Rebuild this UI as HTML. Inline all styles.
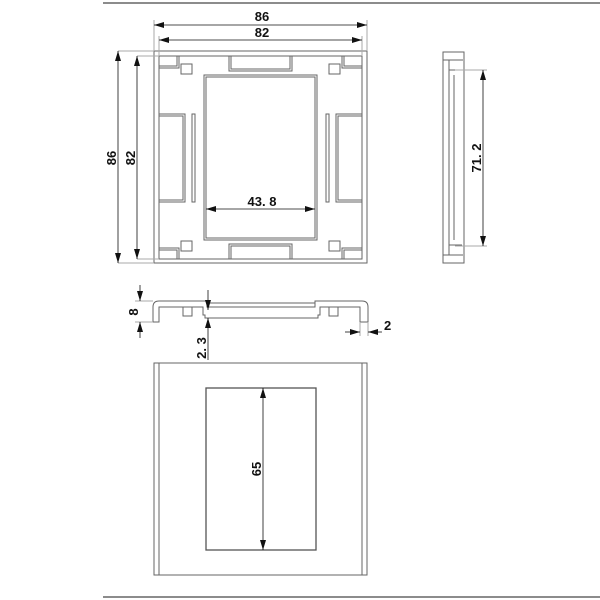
<!DOCTYPE html>
<html><head><style>body{margin:0;background:#fff}svg{display:block}text{font-family:"Liberation Sans",sans-serif;font-weight:bold;font-size:13px;fill:#111}</style></head><body>
<svg width="600" height="600" viewBox="0 0 600 600">
<defs><marker id="a" viewBox="0 0 10 6" refX="10" refY="3" markerWidth="10" markerHeight="6" orient="auto-start-reverse" markerUnits="userSpaceOnUse"><path d="M0,0 L10,3 L0,6z" fill="#111"/></marker></defs>
<line x1="103" y1="3" x2="600" y2="3" stroke="#666" stroke-width="1.5"/>
<line x1="103" y1="597" x2="600" y2="597" stroke="#666" stroke-width="1.5"/>
<g fill="none" stroke="#666" stroke-width="1">
<rect x="154" y="51" width="213" height="212"/>
<rect x="159" y="56" width="203" height="203"/>
<line x1="118" y1="51" x2="154" y2="51" stroke="#aaa"/><line x1="118" y1="263" x2="154" y2="263" stroke="#aaa"/>
<line x1="137" y1="56" x2="159" y2="56" stroke="#aaa"/><line x1="137" y1="259" x2="159" y2="259" stroke="#aaa"/>
<line x1="154" y1="20" x2="154" y2="51" stroke="#aaa"/><line x1="367" y1="20" x2="367" y2="51" stroke="#aaa"/>
<line x1="159" y1="36" x2="159" y2="56" stroke="#aaa"/><line x1="362" y1="36" x2="362" y2="56" stroke="#aaa"/>
<rect x="204" y="75" width="113" height="165"/><rect x="206" y="77" width="109" height="161"/>
<rect x="229" y="56" width="63" height="15"/><rect x="231" y="56" width="59" height="13"/>
<rect x="229" y="244" width="63" height="15"/><rect x="231" y="246" width="59" height="13"/>
<rect x="159" y="114" width="26" height="88"/><rect x="159" y="116" width="24" height="84"/>
<rect x="336" y="114" width="26" height="88"/><rect x="338" y="116" width="24" height="84"/>
<rect x="192" y="114" width="3" height="88"/><rect x="326" y="114" width="3" height="88"/>
<path d="M159,68 H179 V56 M177,56 V66 H159"/><path d="M362,68 H342 V56 M344,56 V66 H362"/>
<path d="M159,248 H179 V259 M177,259 V250 H159"/><path d="M362,248 H342 V259 M344,259 V250 H362"/>
<rect x="181" y="64" width="11" height="10"/><rect x="329" y="64" width="11" height="10"/>
<rect x="181" y="241" width="11" height="10"/><rect x="329" y="241" width="11" height="10"/>
<rect x="443" y="52" width="21" height="211"/>
<line x1="449" y1="60" x2="449" y2="255"/><line x1="454" y1="75" x2="454" y2="240"/>
<path d="M443,60 H463 M449,60 V70 H462 M443,255 H463 M449,255 V245 H462"/>
<line x1="455" y1="70" x2="487" y2="70" stroke="#aaa"/><line x1="455" y1="246" x2="487" y2="246" stroke="#aaa"/>
<path d="M153,322 V307 Q153,301 159,301 H207 V307 H315 V301 H362 Q368,301 368,307 V322 H360 V307 H320 V315 H318 V318 H205 V315 H203 V307 H159 V322 Z"/>
<line x1="207" y1="303" x2="315" y2="303"/>
<rect x="183" y="307" width="9" height="9"/><rect x="329" y="307" width="9" height="9"/>
<line x1="135" y1="301" x2="153" y2="301" stroke="#aaa"/><line x1="135" y1="322" x2="153" y2="322" stroke="#aaa"/>
<line x1="368" y1="322" x2="368" y2="336" stroke="#aaa"/><line x1="360" y1="322" x2="360" y2="336" stroke="#aaa"/>
<rect x="154" y="363" width="213" height="212"/>
<line x1="159" y1="363" x2="159" y2="575"/><line x1="362" y1="363" x2="362" y2="575"/>
<rect x="206" y="388" width="110" height="162" stroke="#555" stroke-width="1.3"/>
</g>
<g stroke="#111" stroke-width="0.8" fill="none">
<line x1="154" y1="25" x2="367" y2="25" marker-start="url(#a)" marker-end="url(#a)"/>
<line x1="159" y1="40" x2="362" y2="40" marker-start="url(#a)" marker-end="url(#a)"/>
<line x1="118" y1="51" x2="118" y2="263" marker-start="url(#a)" marker-end="url(#a)"/>
<line x1="137" y1="56" x2="137" y2="259" marker-start="url(#a)" marker-end="url(#a)"/>
<line x1="206" y1="209" x2="315" y2="209" marker-start="url(#a)" marker-end="url(#a)"/>
<line x1="483" y1="70" x2="483" y2="246" marker-start="url(#a)" marker-end="url(#a)"/>
<line x1="140" y1="285" x2="140" y2="301" marker-end="url(#a)"/>
<line x1="140" y1="338" x2="140" y2="322" marker-end="url(#a)"/>
<line x1="208" y1="290" x2="208" y2="310" marker-end="url(#a)"/>
<line x1="208" y1="360" x2="208" y2="318" marker-end="url(#a)"/>
<line x1="345" y1="332" x2="360" y2="332" marker-end="url(#a)"/>
<line x1="382" y1="332" x2="368" y2="332" marker-end="url(#a)"/>
<line x1="263" y1="388" x2="263" y2="550" marker-start="url(#a)" marker-end="url(#a)"/>
</g>
<text x="262" y="21" text-anchor="middle">86</text>
<text x="262" y="37" text-anchor="middle">82</text>
<text x="262" y="206" text-anchor="middle">43. 8</text>
<text transform="translate(116,158) rotate(-90)" text-anchor="middle">86</text>
<text transform="translate(135,158) rotate(-90)" text-anchor="middle">82</text>
<text transform="translate(481,158) rotate(-90)" text-anchor="middle">71. 2</text>
<text transform="translate(138,312) rotate(-90)" text-anchor="middle">8</text>
<text transform="translate(206,348) rotate(-90)" text-anchor="middle">2. 3</text>
<text x="384" y="330">2</text>
<text transform="translate(261,469) rotate(-90)" text-anchor="middle">65</text>
</svg>
</body></html>
